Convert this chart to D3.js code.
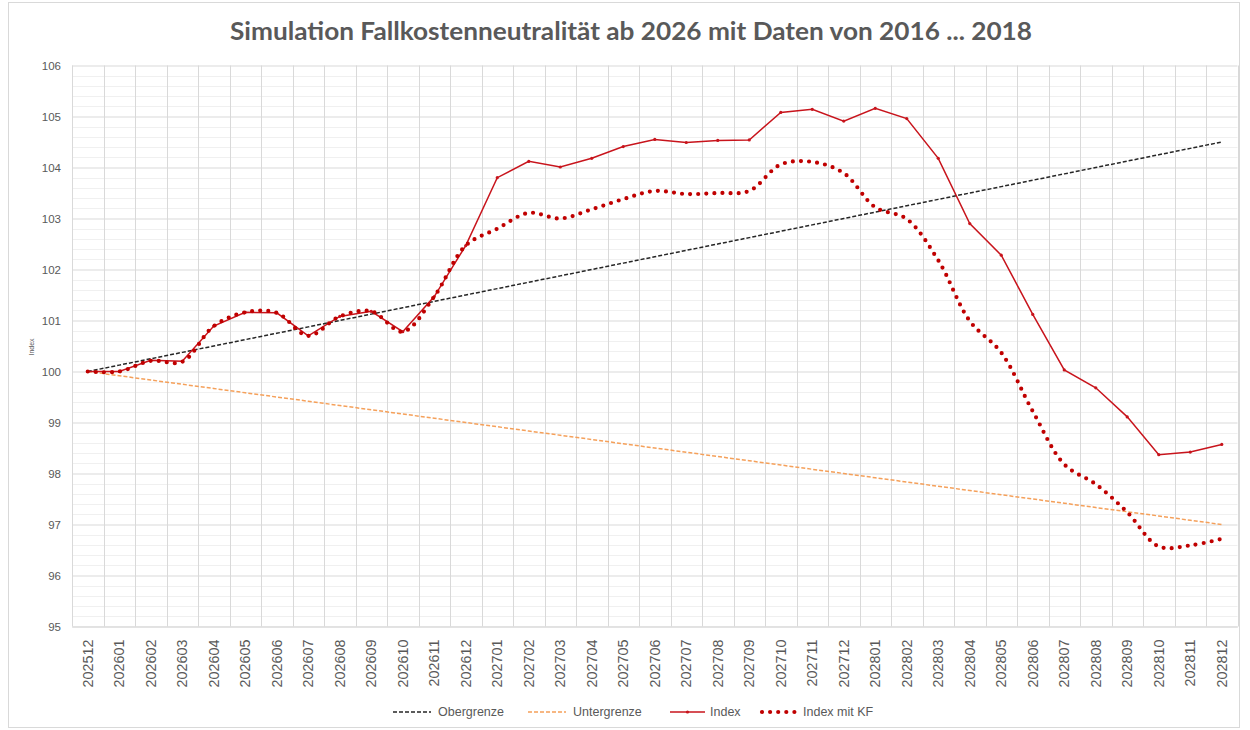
<!DOCTYPE html>
<html>
<head>
<meta charset="utf-8">
<script src="https://cdn.jsdelivr.net/npm/d3@7"></script>
<style>
  html, body { margin: 0; padding: 0; background: #fff; }
  svg { display: block; }
</style>
</head>
<body>
<svg id="chart" width="1250" height="730"></svg>
<script>
const categories = ["202512",
  "202601","202602","202603","202604","202605","202606","202607","202608","202609","202610","202611","202612",
  "202701","202702","202703","202704","202705","202706","202707","202708","202709","202710","202711","202712",
  "202801","202802","202803","202804","202805","202806","202807","202808","202809","202810","202811","202812"];

const obergrenze = [100.000,100.125,100.250,100.375,100.500,100.625,100.750,100.875,101.000,101.125,101.250,101.375,101.500,
  101.625,101.750,101.875,102.000,102.125,102.250,102.375,102.500,102.625,102.750,102.875,103.000,
  103.125,103.250,103.375,103.500,103.625,103.750,103.875,104.000,104.125,104.250,104.375,104.500];

const untergrenze = [100.000,99.917,99.833,99.750,99.667,99.583,99.500,99.417,99.333,99.250,99.167,99.083,99.000,
  98.917,98.833,98.750,98.667,98.583,98.500,98.417,98.333,98.250,98.167,98.083,98.000,
  97.917,97.833,97.750,97.667,97.583,97.500,97.417,97.333,97.250,97.167,97.083,97.000];

const indexValues = [100.00,
  100.00,100.22,100.20,100.89,101.16,101.15,100.70,101.08,101.18,100.78,101.47,102.47,
  103.80,104.12,104.01,104.18,104.41,104.55,104.49,104.53,104.54,105.08,105.14,104.91,
  105.16,104.96,104.18,102.90,102.28,101.12,100.03,99.68,99.11,98.37,98.42,98.57];

const indexMitKF = [100.00,
  100.00,100.21,100.19,100.89,101.16,101.15,100.70,101.08,101.18,100.78,101.47,102.47,
  102.80,103.11,103.00,103.18,103.38,103.54,103.48,103.50,103.54,104.06,104.11,103.89,
  103.22,102.99,102.18,100.99,100.37,99.22,98.18,97.79,97.24,96.57,96.59,96.72];

const yTicks = [95,96,97,98,99,100,101,102,103,104,105,106];
const titleText = "Simulation Fallkostenneutralität ab 2026 mit Daten von 2016 ... 2018";
const yAxisTitle = "Index";
const legendLabels = ["Obergrenze","Untergrenze","Index","Index mit KF"];

const svg = d3.select("#chart");
const W = 1250, H = 730;
const plot = {left: 72, right: 1237.5, top: 65.5, bottom: 626.5};
const textGrey = "#595959";
const red = "#C00000";

// chart border
svg.append("rect").attr("x", 8.5).attr("y", 2.5).attr("width", 1231).attr("height", 725)
  .attr("fill", "#fff").attr("stroke", "#d9d9d9").attr("stroke-width", 1);

const x = d3.scaleBand().domain(categories).range([plot.left, plot.right]).paddingInner(0).paddingOuter(0);
const xc = d => x(d) + x.bandwidth() / 2;
const y = d3.scaleLinear().domain([95, 106]).range([plot.bottom, plot.top]);

// minor gridlines
const minor = d3.range(95, 106.001, 0.2).filter(v => Math.abs(v - Math.round(v)) > 1e-6);
svg.append("g").selectAll("line").data(minor).join("line")
  .attr("x1", plot.left).attr("x2", plot.right)
  .attr("y1", d => Math.round(y(d)) + 0.5).attr("y2", d => Math.round(y(d)) + 0.5)
  .attr("stroke", "#f0f0f0").attr("stroke-width", 1);

// major gridlines via axis
const yAxis = svg.append("g").attr("transform", `translate(${plot.left},0)`)
  .call(d3.axisLeft(y).tickValues(yTicks).tickFormat(d3.format("d")).tickSize(-(plot.right - plot.left)).tickPadding(11));
yAxis.select(".domain").remove();
yAxis.selectAll(".tick line").attr("stroke", "#d9d9d9");
yAxis.selectAll(".tick text").attr("fill", textGrey).style("font-family", "'Liberation Sans', Arial, sans-serif").style("font-size", "11.5px");

// vertical gridlines at category boundaries
const bounds = categories.map(c => x(c)).concat([plot.right]);
svg.append("g").selectAll("line").data(bounds).join("line")
  .attr("x1", d => Math.round(d) + 0.5).attr("x2", d => Math.round(d) + 0.5)
  .attr("y1", plot.top).attr("y2", plot.bottom)
  .attr("stroke", "#d9d9d9").attr("stroke-width", 1);

// x axis labels
const xAxis = svg.append("g").attr("transform", `translate(0,${plot.bottom})`)
  .call(d3.axisBottom(x).tickSize(0).tickPadding(0));
xAxis.select(".domain").attr("stroke", "#d9d9d9");
xAxis.selectAll(".tick text")
  .attr("transform", "rotate(-90)")
  .attr("x", -13).attr("y", 0).attr("dy", "0.36em")
  .attr("text-anchor", "end")
  .attr("fill", textGrey)
  .style("font-family", "'Liberation Sans', Arial, sans-serif").style("font-size", "14.4px");

// y axis title
svg.append("text").attr("transform", "translate(34,347) rotate(-90)")
  .attr("text-anchor", "middle").attr("fill", textGrey)
  .style("font-family", "'Liberation Sans', Arial, sans-serif").style("font-size", "7px")
  .text(yAxisTitle);

// title
svg.append("text").attr("x", 631).attr("y", 40).attr("text-anchor", "middle")
  .attr("fill", textGrey).attr("font-weight", "bold")
  .attr("textLength", 802).attr("lengthAdjust", "spacingAndGlyphs")
  .style("font-family", "Lato, 'Open Sans', sans-serif").style("font-size", "24px")
  .text(titleText);

const line = d3.line().x((d, i) => xc(categories[i])).y(d => y(d));
const smooth = d3.line().x((d, i) => xc(categories[i])).y(d => y(d)).curve(d3.curveCatmullRom.alpha(0.5));

svg.append("path").datum(obergrenze).attr("d", line)
  .attr("fill", "none").attr("stroke", "#262626").attr("stroke-width", 1.5).attr("stroke-dasharray", "4,2");
svg.append("path").datum(untergrenze).attr("d", line)
  .attr("fill", "none").attr("stroke", "#F5A05A").attr("stroke-width", 1.5).attr("stroke-dasharray", "4,2");

svg.append("path").datum(indexValues).attr("d", line)
  .attr("fill", "none").attr("stroke", "#C8141C").attr("stroke-width", 1.5);
svg.append("g").selectAll("circle").data(indexValues).join("circle")
  .attr("cx", (d, i) => xc(categories[i])).attr("cy", d => y(d)).attr("r", 1.6)
  .attr("fill", "#C8141C");

svg.append("path").datum(indexMitKF).attr("d", smooth)
  .attr("fill", "none").attr("stroke", red).attr("stroke-width", 4.2)
  .attr("stroke-linecap", "round").attr("stroke-dasharray", "0,8.1");

// legend
const ly = 712;
const lg = svg.append("g");
const legendItems = [
  {label: legendLabels[0], x1: 393, x2: 431, tx: 438, stroke: "#262626", w: 1.5, dash: "4,2"},
  {label: legendLabels[1], x1: 528, x2: 566, tx: 573, stroke: "#F5A05A", w: 1.5, dash: "4,2"},
  {label: legendLabels[2], x1: 670, x2: 705, tx: 710, stroke: "#C8141C", w: 1.5, dash: null, marker: true},
  {label: legendLabels[3], x1: 762, x2: 795, tx: 803, stroke: red, w: 4.2, dash: "0,8.1", round: true}
];
legendItems.forEach(it => {
  const l = lg.append("line").attr("x1", it.x1).attr("x2", it.x2).attr("y1", ly).attr("y2", ly)
    .attr("stroke", it.stroke).attr("stroke-width", it.w);
  if (it.dash) l.attr("stroke-dasharray", it.dash);
  if (it.round) l.attr("stroke-linecap", "round");
  if (it.marker) lg.append("circle").attr("cx", (it.x1 + it.x2) / 2).attr("cy", ly).attr("r", 1.6).attr("fill", it.stroke);
  lg.append("text").attr("x", it.tx).attr("y", ly).attr("dy", "0.35em")
    .attr("fill", textGrey).style("font-family", "'Liberation Sans', Arial, sans-serif").style("font-size", "12.5px")
    .text(it.label);
});
</script>
</body>
</html>
